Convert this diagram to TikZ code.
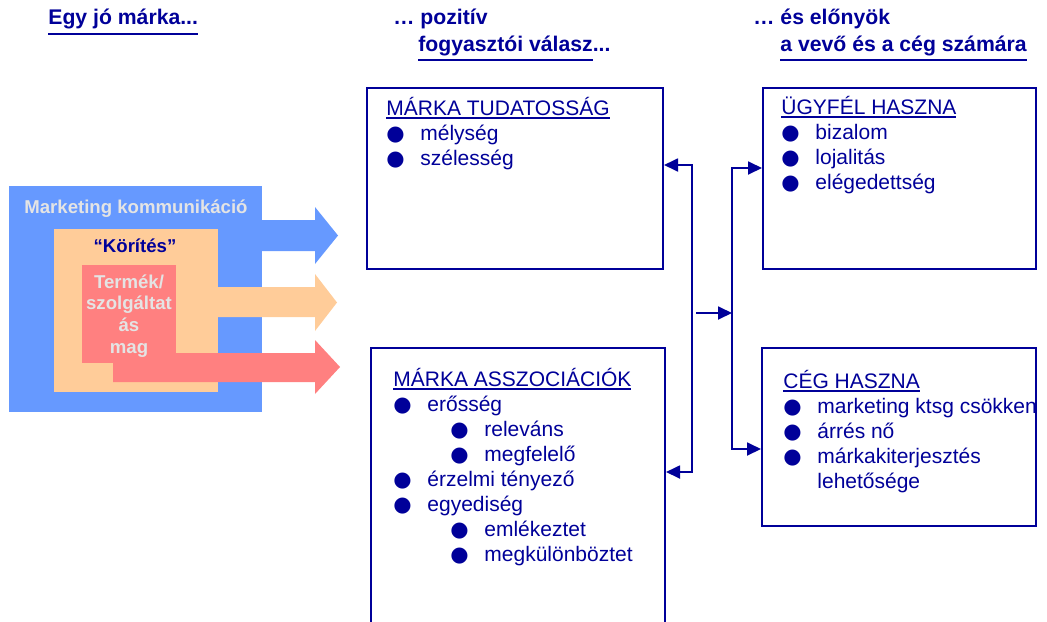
\documentclass[tikz,border=0pt]{standalone}
\usepackage{fontspec}
\setmainfont{Liberation Sans}
\newfontfamily\dejavu{DejaVu Sans}
\usetikzlibrary{arrows.meta,positioning}
\definecolor{mknavy}{RGB}{0,0,153}
\definecolor{mkblue}{RGB}{102,153,255}
\definecolor{mkpeach}{RGB}{255,204,153}
\definecolor{mkred}{RGB}{255,128,128}
\definecolor{mkgrey}{RGB}{228,228,228}
\newcommand{\ulin}[2][1pt]{\vtop{\hbox{#2}\kern#1\hrule height 0.8pt}}
\newcommand{\bul}{\makebox[17pt][l]{\dejavu ●}}
\newcommand{\subbul}{\hspace*{28.5pt}\bul}

\begin{document}
\begin{tikzpicture}[
    x=0.5pt,y=-0.5pt,
    >={Triangle[length=7pt,width=6.5pt]},
    hdr/.style={anchor=base west,inner sep=0pt,text=mknavy,
      font=\bfseries\fontsize{10.6}{13}\selectfont},
    panel/.style={rectangle,draw=mknavy,line width=1pt,fill=white,inner sep=0pt},
    txt/.style={align=left,inner sep=0pt,text=mknavy,
      font=\fontsize{10.5}{12.5}\selectfont},
    lbl/.style={inner sep=0pt,align=center,
      font=\bfseries\fontsize{9.3}{10.9}\selectfont},
    flow/.style={line width=0.9pt,color=mknavy}
  ]
    \clip (0,0) rectangle (1047,621);

    % headers
    \node[hdr] (egy) at (48,25) {\ulin[2pt]{Egy jó márka...}};
    \node[hdr] (poz) at (393,25) {… pozitív};
    \node[hdr] (valasz) at (418,51) {\ulin[2pt]{fogyasztói válasz}...};
    \node[hdr] (elony) at (753,25) {… és előnyök};
    \node[hdr] (szamara) at (780,51) {\ulin[2pt]{a vevő és a cég számára}};

    % the brand: layers and their arrows
    \fill[mkblue] (9,186) rectangle (262,412);
    \fill[mkblue] (262,220) -- (315,220) -- (315,207) -- (338,235.5)
      -- (315,264) -- (315,251) -- (262,251) -- cycle;
    \fill[mkpeach] (54,229) rectangle (218,392);
    \fill[mkpeach] (218,287) -- (315,287) -- (315,274) -- (337,302.5)
      -- (315,331) -- (315,317) -- (218,317) -- cycle;
    \fill[mkred] (82,265) rectangle (176,363);
    \fill[mkred] (113,353) -- (315,353) -- (315,340) -- (340,367)
      -- (315,394) -- (315,382) -- (113,382) -- cycle;

    \node[lbl,anchor=base,text=mkgrey] (mkom) at (136,213.5) {Marketing kommunikáció};
    \node[lbl,anchor=base,text=mknavy] (korites) at (135,252.5) {“Körítés”};
    \node[lbl,text=mkgrey] (termek) at (129,316) {Termék/\\szolgáltat\\ás\\mag};

    % response boxes
    \node[panel,minimum width=148pt,minimum height=90.5pt] (tudat) at (515,178.5) {};
    \node[panel,minimum width=147pt,minimum height=146pt] (assz) at (518,494) {};
    \node[panel,minimum width=136.5pt,minimum height=90.5pt] (ugyfel) at (899.5,178.5) {};
    \node[panel,minimum width=137pt,minimum height=89pt] (ceg) at (899,437) {};

    \node[txt,below right=4.75pt and 10pt of tudat.north west] (tudattxt)
      {\ulin{MÁRKA TUDATOSSÁG}\\
       \bul mélység\\
       \bul szélesség};
    \node[txt,below right=10.25pt and 11.5pt of assz.north west] (assztxt)
      {\ulin{MÁRKA ASSZOCIÁCIÓK}\\
       \bul erősség\\
       \subbul releváns\\
       \subbul megfelelő\\
       \bul érzelmi tényező\\
       \bul egyediség\\
       \subbul emlékeztet\\
       \subbul megkülönböztet};
    \node[txt,below right=4.25pt and 9.5pt of ugyfel.north west] (ugyfeltxt)
      {\ulin{ÜGYFÉL HASZNA}\\
       \bul bizalom\\
       \bul lojalitás\\
       \bul elégedettség};
    \node[txt,below right=11.25pt and 11pt of ceg.north west] (cegtxt)
      {\ulin{CÉG HASZNA}\\
       \bul marketing ktsg csökken\\
       \bul árrés nő\\
       \bul márkakiterjesztés\\
       \hspace*{17pt}lehetősége};

    % connectors
    \coordinate (ltop) at (692,165);
    \coordinate (lbot) at (692,472);
    \coordinate (rtop) at (732,168);
    \coordinate (rbot) at (732,449);
    \coordinate (jin) at (696,313);
    \draw[flow,<->] (ltop -| tudat.east) -- (ltop) -- (lbot) -- (lbot -| assz.east);
    \draw[flow,<->] (rtop -| ugyfel.west) -- (rtop) -- (rbot) -- (rbot -| ceg.west);
    \draw[flow,->] (jin) -- (jin -| rtop);
  \end{tikzpicture}
\end{document}
